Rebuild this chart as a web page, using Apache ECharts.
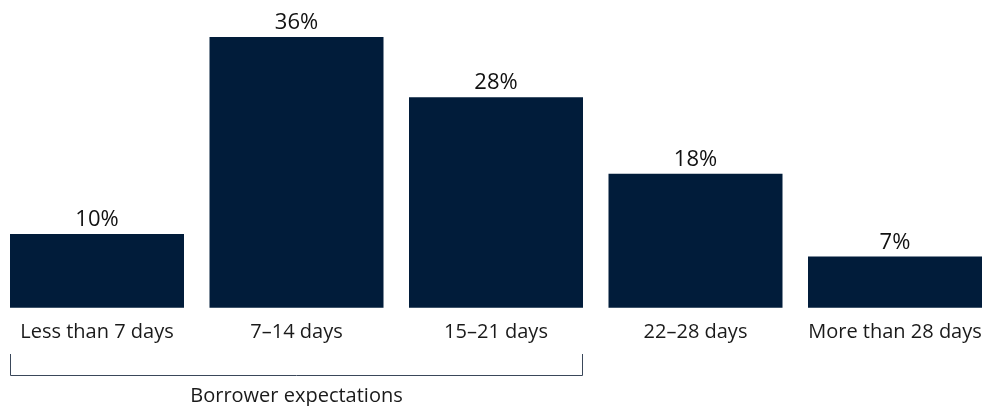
<!DOCTYPE html>
<html>
<head>
<meta charset="utf-8">
<script src="https://cdn.jsdelivr.net/npm/echarts@6/dist/echarts.min.js"></script>
<style>
html,body{margin:0;padding:0;background:#fff;}
#chart{width:983px;height:406px;}
</style>
</head>
<body>
<div id="chart"></div>
<script>
const categories = ['Less than 7 days', '7\u201314 days', '15\u201321 days', '22\u201328 days', 'More than 28 days'];
const values = [9.8, 36, 28, 17.8, 6.8];
const groupLabel = 'Borrower expectations';
const groupRange = [0, 2];

const BAR_W = 174;
const chart = echarts.init(document.getElementById('chart'), null, {renderer: 'canvas'});
const fontFamily = '"Open Sans", Roboto, sans-serif';

chart.setOption({
  animation: false,
  backgroundColor: '#ffffff',
  grid: {left: -2.75, right: -11.75, top: 37, bottom: 98.3, outerBoundsMode: 'none', containLabel: false},
  xAxis: {
    type: 'category',
    data: categories,
    axisLine: {show: false},
    axisTick: {show: false},
    axisLabel: {color: '#1a1a1a', fontSize: 20, fontFamily: fontFamily, margin: 15, interval: 0}
  },
  yAxis: {
    type: 'value', min: 0, max: 36,
    show: false, splitLine: {show: false}
  },
  series: [{
    type: 'bar',
    data: values,
    barWidth: BAR_W,
    itemStyle: {color: '#011c3a'},
    label: {
      show: true, position: 'top', distance: 3,
      color: '#111', fontSize: 22, fontFamily: fontFamily,
      formatter: p => Math.round(p.value) + '%'
    }
  }]
});

const c0 = chart.convertToPixel({xAxisIndex: 0}, categories[groupRange[0]]);
const c1 = chart.convertToPixel({xAxisIndex: 0}, categories[groupRange[1]]);
const xl = Math.round(c0 - BAR_W / 2) + 0.5;
const xr = Math.round(c1 + BAR_W / 2) - 0.5;
const yTop = 354, yBot = 375.5;
chart.setOption({
  graphic: [
    {type: 'polyline', silent: true,
     shape: {points: [[xl, yTop], [xl, yBot], [xr, yBot], [xr, yTop]]},
     style: {stroke: '#3a475a', lineWidth: 1, fill: null}},
    {type: 'text', silent: true, x: (xl + xr) / 2, y: 396,
     style: {text: groupLabel, fill: '#1a1a1a', font: '20px ' + fontFamily, align: 'center', verticalAlign: 'middle'}}
  ]
});
</script>
</body>
</html>
